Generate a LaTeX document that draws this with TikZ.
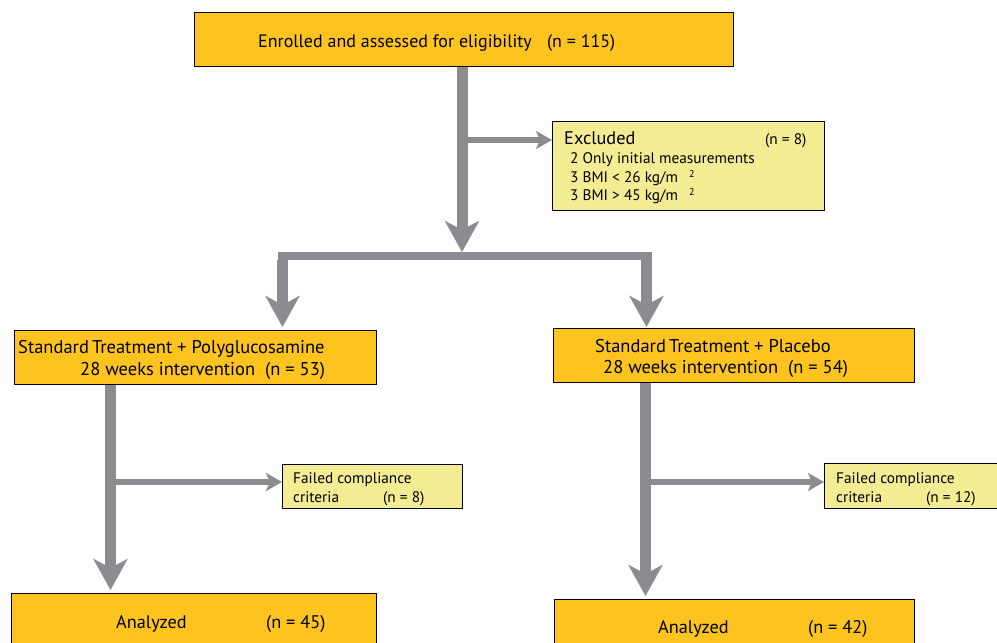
\documentclass[tikz,border=0pt]{standalone}
\usepackage{fontspec}
\setmainfont{PT Sans}
\usetikzlibrary{arrows.meta}
\definecolor{boxorange}{RGB}{253,196,32}
\definecolor{boxyellow}{RGB}{243,236,146}
\definecolor{arrgray}{RGB}{139,139,145}
\tikzset{
  obox/.style={rectangle, draw=black, line width=0.8pt, fill=boxorange, inner sep=0pt, anchor=north west},
  ybox/.style={rectangle, draw=black, line width=0.8pt, fill=boxyellow, inner sep=0pt, anchor=north west},
  txt/.style={anchor=base west, inner sep=0pt, text=black},
  bigtxt/.style={txt, font=\fontsize{18.3}{20}\selectfont},
  smalltxt/.style={txt, font=\fontsize{15.3}{17}\selectfont},
  suptxt/.style={txt, font=\fontsize{10}{12}\selectfont},
  bigarr/.style={draw=arrgray, line width=11pt, -{Stealth[length=31pt,width=34pt,inset=9pt]}},
  thinarr/.style={draw=arrgray, line width=6pt, -{Stealth[length=16pt,width=18pt,inset=4pt]}},
  barline/.style={draw=arrgray, line width=8pt},
}
\begin{document}
\begin{tikzpicture}[x=1pt,y=-1pt]
\useasboundingbox (0,0) rectangle (997,643);
% boxes
\node[obox, minimum width=539pt, minimum height=54pt] (top) at (194,12) {};
\node[ybox, minimum width=272pt, minimum height=89pt] (excl) at (552,121) {};
\node[obox, minimum width=362pt, minimum height=54pt] (lt) at (14,330) {};
\node[obox, minimum width=361pt, minimum height=54pt] (rt) at (553,328) {};
\node[ybox, minimum width=180pt, minimum height=44pt] (fl) at (282,464) {};
\node[ybox, minimum width=180pt, minimum height=45pt] (fr) at (824,463) {};
\node[obox, minimum width=365pt, minimum height=70pt] (la) at (11,593) {};
\node[obox, minimum width=360pt, minimum height=70pt] (ra) at (554,599) {};
% texts
\node[bigtxt, font=\fontsize{18}{20}\selectfont] (t1) at (258,47) {Enrolled and assessed for eligibility};
\node[bigtxt, font=\fontsize{18}{20}\selectfont] (t2) at (547,47) {(n = 115)};
\node[bigtxt] (e1) at (564,144) {Excluded};
\node[smalltxt] (e2) at (765,144) {(n = 8)};
\node[smalltxt] (e3) at (570,163) {2 Only initial measurements};
\node[smalltxt] (e4) at (570,182) {3 BMI < 26 kg/m};
\node[suptxt] (e4s) at (689,177) {2};
\node[smalltxt] (e5) at (570,200) {3 BMI > 45 kg/m};
\node[suptxt] (e5s) at (689,195) {2};
\node[bigtxt, font=\fontsize{18.5}{20}\selectfont] (l1) at (18,353) {Standard\,Treatment + Polyglucosamine};
\node[bigtxt, font=\fontsize{18.5}{20}\selectfont] (l2) at (80,375) {28 weeks intervention};
\node[bigtxt, font=\fontsize{18.5}{20}\selectfont] (l3) at (265,375) {(n = 53)};
\node[bigtxt, font=\fontsize{18.5}{20}\selectfont] (r1) at (595,352) {Standard\,Treatment + Placebo};
\node[bigtxt, font=\fontsize{18.5}{20}\selectfont] (r2) at (603,373) {28 weeks intervention};
\node[bigtxt, font=\fontsize{18.5}{20}\selectfont] (r3) at (788,373) {(n = 54)};
\node[smalltxt] (f1) at (293,483) {Failed compliance};
\node[smalltxt] (f2) at (293,502) {criteria};
\node[smalltxt] (f3) at (383,502) {(n = 8)};
\node[smalltxt] (g1) at (836,483) {Failed compliance};
\node[smalltxt] (g2) at (836,502) {criteria};
\node[smalltxt] (g3) at (926,502) {(n = 12)};
\node[bigtxt] (a1) at (116,628) {Analyzed};
\node[bigtxt] (a2) at (266,628) {(n = 45)};
\node[bigtxt] (b1) at (658,633) {Analyzed};
\node[bigtxt] (b2) at (808,633) {(n = 42)};
% connector coordinates
\coordinate (mx) at (462,0);
\coordinate (split) at (462,252);
\coordinate (exb) at (462,140);
\coordinate (barL) at (282.5,256);
\coordinate (barR) at (646.5,256);
\coordinate (lx) at (110.5,0);
\coordinate (rx) at (645.5,0);
\coordinate (lb) at (110.5,482);
\coordinate (rb) at (645.5,482);
% connectors
\draw[bigarr] (top.south -| mx) -- (split);
\draw[thinarr] (exb) -- (exb -| excl.west);
\draw[barline] ([xshift=-4.5pt]barL) -- ([xshift=5.5pt]barR);
\draw[bigarr, shorten >=3pt] ([yshift=-4pt]barL) -- (barL |- lt.north);
\draw[bigarr, shorten >=1pt] ([yshift=-4pt]barR) -- (barR |- rt.north);
\draw[bigarr, shorten >=3pt] (lt.south -| lx) -- (la.north -| lx);
\draw[thinarr] (lb) -- (lb -| fl.west);
\draw[bigarr, shorten >=3pt] (rt.south -| rx) -- (ra.north -| rx);
\draw[thinarr] (rb) -- (rb -| fr.west);
\end{tikzpicture}
\end{document}
